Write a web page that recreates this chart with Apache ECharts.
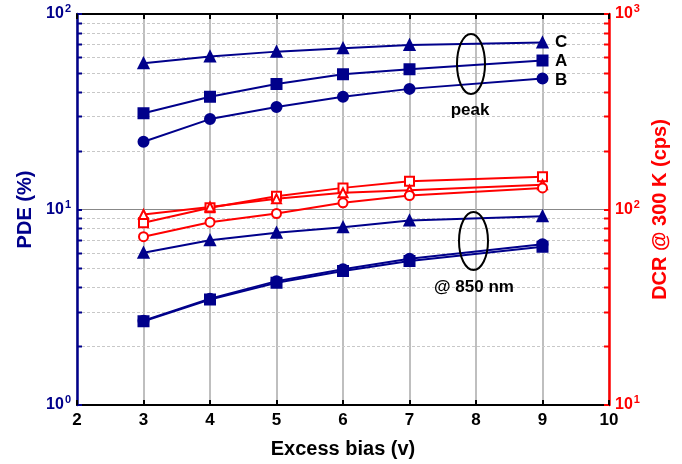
<!DOCTYPE html>
<html><head><meta charset="utf-8">
<script src="https://cdn.jsdelivr.net/npm/echarts@6/dist/echarts.min.js"></script>
<style>html,body{margin:0;padding:0;background:#fff}#c{width:682px;height:464px}</style>
</head><body><div id="c"></div>
<script>
// ---- data ----
const bias = [3, 4, 5, 6, 7, 9];
const peakC = [56.0, 60.6, 64.2, 66.8, 69.5, 71.4];
const peakA = [31.1, 37.7, 43.8, 49.2, 52.2, 57.8];
const peakB = [22.2, 29.0, 33.4, 37.7, 41.4, 46.8];
const nm850C = [6.01, 6.97, 7.61, 8.12, 8.79, 9.24];
const nm850A = [2.68, 3.46, 4.22, 4.85, 5.45, 6.45];
const nm850B = [2.70, 3.50, 4.30, 4.95, 5.60, 6.65];
const dcrA = [85.5, 102, 117, 129, 139.5, 147];
const dcrC = [94.3, 103, 113.4, 121.7, 125.5, 134];
const dcrB = [72.6, 86.1, 95.4, 108.2, 117.9, 129];
const minorTicks = [2,3,4,5,6,7,8,9,20,30,40,50,60,70,80,90];

const BLUE = '#00008b', RED = '#ff0000';
const FONT = '"Liberation Sans", Arial, sans-serif';

const pair = (ys) => bias.map((x, i) => [x, ys[i]]);
function supFmt(v) {
  const e = Math.round(Math.log10(v));
  return '{b|10}{s|' + e + '}';
}
function rich(color) {
  return {
    b: { fontSize: 16, fontWeight: 'bold', color: color, fontFamily: FONT },
    s: { fontSize: 11, fontWeight: 'bold', color: color, fontFamily: FONT, padding: [0, 0, 10, 1] }
  };
}
function line(name, ys, yIdx, color, symbol) {
  return {
    name: name, type: 'line', yAxisIndex: yIdx, data: pair(ys),
    symbol: symbol, symbolSize: symbol.indexOf('empty') === 0 ? 9 : 10,
    lineStyle: { color: color, width: 2 },
    itemStyle: { color: color, borderColor: color, borderWidth: 2 },
    z: 5
  };
}

const chart = echarts.init(document.getElementById('c'), null, { renderer: 'canvas' });
chart.setOption({
  animation: false,
  backgroundColor: '#fff',
  grid: { left: 77, right: 73, top: 14, bottom: 58 },
  xAxis: [{
    type: 'value', min: 2, max: 10, interval: 1,
    axisLine: { lineStyle: { color: '#000', width: 2 } },
    axisTick: { inside: true, length: 5, lineStyle: { color: '#000', width: 2 } },
    axisLabel: { color: '#000', fontSize: 17, fontWeight: 'bold', fontFamily: FONT, margin: 7 },
    splitLine: { show: true, lineStyle: { color: '#aaa', width: 1.5 } },
    name: 'Excess bias (v)', nameLocation: 'middle', nameGap: 34,
    nameTextStyle: { color: '#000', fontSize: 20, fontWeight: 'bold', fontFamily: FONT }
  }, {
    type: 'value', min: 2, max: 10, interval: 1, position: 'top',
    axisLine: { lineStyle: { color: '#000', width: 2 } },
    axisTick: { inside: true, length: 5, lineStyle: { color: '#000', width: 2 } },
    axisLabel: { show: false }, splitLine: { show: false }
  }],
  yAxis: [{
    type: 'log', logBase: 10, min: 1, max: 100,
    axisLine: { show: true, lineStyle: { color: BLUE, width: 2.5 } },
    axisTick: { inside: true, length: 5, lineStyle: { color: BLUE, width: 2 } },
    axisLabel: { formatter: supFmt, rich: rich(BLUE), margin: 6 },
    splitLine: { show: true, lineStyle: { color: '#888', width: 1 } },
    name: 'PDE (%)', nameLocation: 'middle', nameGap: 42,
    nameTextStyle: { color: BLUE, fontSize: 20, fontWeight: 'bold', fontFamily: FONT }
  }, {
    type: 'log', logBase: 10, min: 10, max: 1000, position: 'right',
    axisLine: { show: true, lineStyle: { color: RED, width: 2.5 } },
    axisTick: { inside: true, length: 5, lineStyle: { color: RED, width: 2 } },
    axisLabel: { formatter: supFmt, rich: rich(RED), margin: 6 },
    splitLine: { show: false },
    name: 'DCR @ 300 K (cps)', nameLocation: 'middle', nameGap: 41,
    nameTextStyle: { color: RED, fontSize: 20, fontWeight: 'bold', fontFamily: FONT }
  }],
  series: [
    {
      type: 'custom', yAxisIndex: 0, z: 1, silent: true,
      data: minorTicks.map(v => [2, v]),
      encode: { x: 0, y: 1 },
      renderItem: function (params, api) {
        const cs = params.coordSys;
        const y = Math.round(api.coord([2, api.value(1)])[1]) + 0.5;
        const x0 = cs.x, x1 = cs.x + cs.width;
        return { type: 'group', children: [
          { type: 'line', shape: { x1: x0, y1: y, x2: x1, y2: y },
            style: { stroke: '#c8c8c8', lineWidth: 1, lineDash: [3, 2] } },
          { type: 'line', shape: { x1: x0, y1: y, x2: x0 + 5, y2: y },
            style: { stroke: BLUE, lineWidth: 2 } },
          { type: 'line', shape: { x1: x1 - 5, y1: y, x2: x1, y2: y },
            style: { stroke: RED, lineWidth: 2 } }
        ] };
      }
    },
    line('PDE peak C', peakC, 0, BLUE, 'triangle'),
    line('PDE peak A', peakA, 0, BLUE, 'rect'),
    line('PDE peak B', peakB, 0, BLUE, 'circle'),
    line('PDE 850 C', nm850C, 0, BLUE, 'triangle'),
    line('PDE 850 A', nm850A, 0, BLUE, 'rect'),
    line('PDE 850 B', nm850B, 0, BLUE, 'circle'),
    line('DCR A', dcrA, 1, RED, 'emptyRect'),
    line('DCR C', dcrC, 1, RED, 'emptyTriangle'),
    line('DCR B', dcrB, 1, RED, 'emptyCircle')
  ],
  graphic: [
    { type: 'ellipse', shape: { cx: 471, cy: 64, rx: 14, ry: 30 }, style: { fill: 'none', stroke: '#000', lineWidth: 2 }, z: 10 },
    { type: 'ellipse', shape: { cx: 473.5, cy: 241, rx: 14.5, ry: 29 }, style: { fill: 'none', stroke: '#000', lineWidth: 2 }, z: 10 },
    { type: 'text', x: 470, y: 110, style: { text: 'peak', fill: '#000', font: 'bold 17px ' + FONT, align: 'center', verticalAlign: 'middle' }, z: 10 },
    { type: 'text', x: 474, y: 287, style: { text: '@ 850 nm', fill: '#000', font: 'bold 17px ' + FONT, align: 'center', verticalAlign: 'middle' }, z: 10 },
    { type: 'text', x: 555, y: 42, style: { text: 'C', fill: '#000', font: 'bold 17px ' + FONT, verticalAlign: 'middle' }, z: 10 },
    { type: 'text', x: 555, y: 61, style: { text: 'A', fill: '#000', font: 'bold 17px ' + FONT, verticalAlign: 'middle' }, z: 10 },
    { type: 'text', x: 555, y: 80, style: { text: 'B', fill: '#000', font: 'bold 17px ' + FONT, verticalAlign: 'middle' }, z: 10 }
  ]
});
</script>
</body></html>
